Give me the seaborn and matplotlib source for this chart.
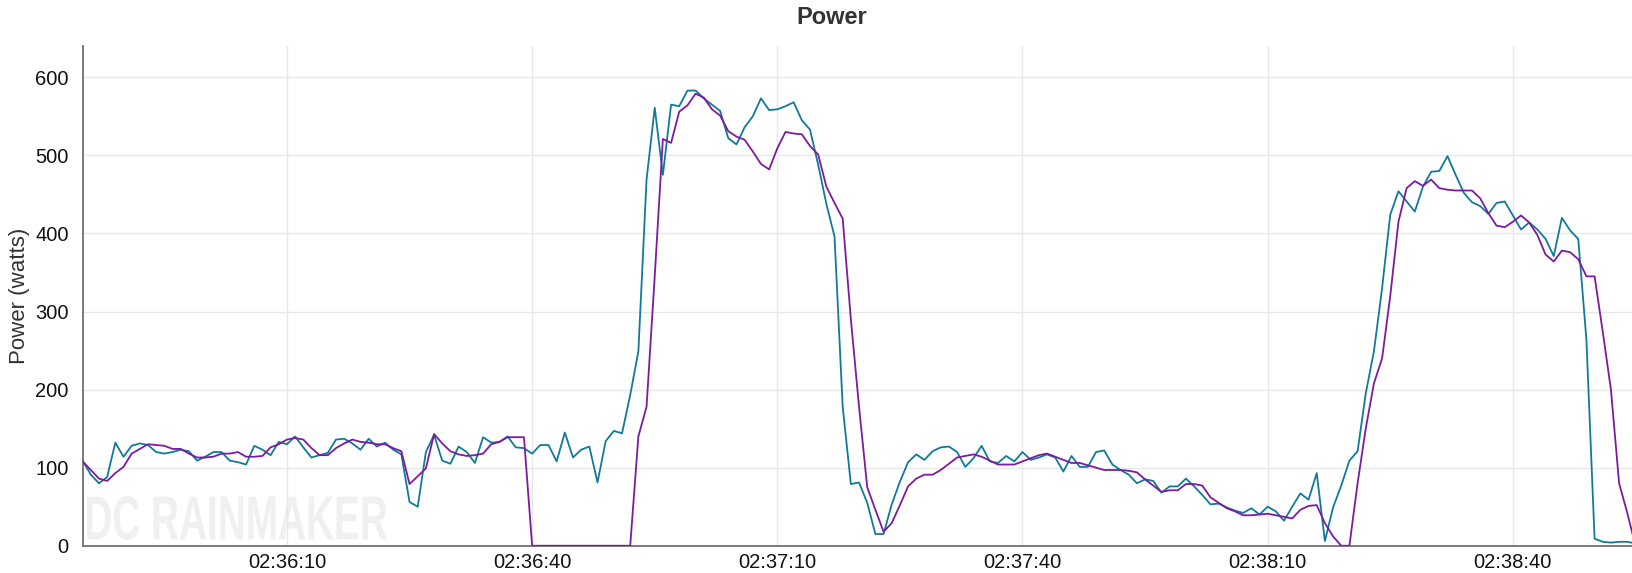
import matplotlib
matplotlib.use('Agg')
import matplotlib.pyplot as plt
import matplotlib.dates as mdates
from matplotlib.textpath import TextPath
from matplotlib.patches import PathPatch
from matplotlib.font_manager import FontProperties
from matplotlib.transforms import Affine2D, IdentityTransform
import pandas as pd
import seaborn as sns

# one sample per second, starting 02:35:45
start_time = '2020-01-01 02:35:45'

# power meter A (teal line), watts
power_a = [109, 91, 80, 88, 132, 114, 128, 131, 129, 120, 118, 120, 123, 121, 109, 114, 120, 120, 109, 107, 104, 128, 123, 116, 133, 130, 140, 126, 113, 116, 119, 136, 137,
           131, 123, 137, 127, 132, 123, 117, 56, 50, 120, 142, 109, 105, 127, 120, 106, 139, 132, 133, 140, 126, 125, 118, 129, 129, 108, 145, 113, 123, 127, 81, 134,
           147, 144, 193, 249, 469, 561, 475, 565, 563, 583, 583, 573, 565, 557, 522, 514, 536, 550, 573, 558, 559, 563, 568, 545, 533, 488, 438, 396, 178, 79, 81, 55,
           15, 15, 53, 82, 107, 117, 110, 121, 126, 127, 120, 101, 112, 128, 108, 106, 115, 108, 120, 110, 113, 117, 113, 95, 115, 101, 101, 120, 122, 104, 97,
           91, 80, 85, 83, 68, 76, 76, 86, 76, 65, 53, 54, 49, 45, 42, 48, 40, 50, 44, 32, 50, 67, 59, 93, 6, 49, 77, 109, 121, 195, 249, 330, 424,
           454, 441, 428, 460, 479, 480, 499, 475, 452, 440, 435, 425, 439, 441, 423, 405, 414, 405, 393, 371, 420, 404, 393, 264, 9, 5, 4, 5, 5, 3]

# power meter B (purple line), watts
power_b = [108, 97, 86, 83, 93, 101, 118, 124, 130, 129, 128, 124, 124, 118, 113, 113, 114, 118, 118, 120, 114, 114, 115, 126, 130, 136, 138, 136, 125, 116, 116, 125, 131,
           136, 133, 132, 130, 130, 125, 121, 79, 89, 99, 143, 131, 121, 117, 115, 116, 118, 130, 133, 139, 139, 139,
           0, 0, 0, 0, 0, 0, 0, 0, 0, 0, 0, 0, 0,
           140, 178, 345, 521, 516, 556, 564, 579, 574, 559, 551, 531, 524, 520, 505, 489, 482, 509, 530, 528, 527, 512, 501, 460, 439, 419, 290, 178, 75,
           46, 18, 29, 52, 76, 86, 91, 91, 97, 105, 113, 115, 117, 114, 109, 104, 104, 104, 108, 112, 116, 118, 114, 110, 106, 106, 103, 100, 97, 97, 97,
           96, 94, 85, 77, 69, 71, 71, 79, 79, 77, 62, 55, 48, 44, 39, 39, 40, 41, 39, 37, 35, 46, 51, 52, 29, 12, 0, 0, 80, 150, 208, 240, 320,
           415, 458, 467, 461, 469, 458, 456, 455, 455, 455, 445, 426, 410, 408, 415, 423, 414, 398, 373, 364, 378, 376, 367, 345, 345, 274, 200, 80, 42, 0]

y_ticks = [0, 100, 200, 300, 400, 500, 600]

times = pd.date_range(start_time, periods=len(power_a), freq='s')
df = pd.DataFrame({'time': list(times) * 2,
                   'watts': power_a + power_b,
                   'meter': ['A'] * len(power_a) + ['B'] * len(power_b)})

sns.set_style('white')
plt.rcParams['font.family'] = ['Liberation Sans', 'DejaVu Sans']

fig = plt.figure(figsize=(16.33, 5.73), dpi=100)
ax = fig.add_axes([0.0506, 0.0476, 0.9494, 0.872])

# faint condensed watermark behind the lines (squeezed text path, pixel coords)
wm = TextPath((0, 0), 'DC RAINMAKER', size=50, prop=FontProperties(family='Liberation Sans', weight='bold'))
ext = wm.get_extents()
wm_tr = Affine2D().translate(-ext.x0, -ext.y0).scale(300 / ext.width, 44 / ext.height).translate(87, 33)
ax.add_patch(PathPatch(wm_tr.transform_path(wm), transform=IdentityTransform(), facecolor='#f0f0f0',
                       edgecolor='none', zorder=0, clip_on=False))

sns.lineplot(data=df, x='time', y='watts', hue='meter', palette={'A': '#117a99', 'B': '#7d1aa0'},
             linewidth=1.3, legend=False, ax=ax, zorder=3)

ax.set_ylim(0, 640)
ax.set_yticks(y_ticks)
ax.set_xlim(times[0], times[0] + pd.Timedelta(seconds=189.7))
ax.xaxis.set_major_locator(mdates.SecondLocator(bysecond=[10, 40]))
ax.xaxis.set_major_formatter(mdates.DateFormatter('%H:%M:%S'))

ax.grid(True, color='#e8e8e8', linewidth=1.0)
ax.set_axisbelow(True)
for side in ['top', 'right']:
    ax.spines[side].set_visible(False)
for side in ['left', 'bottom']:
    ax.spines[side].set_color('#707070')
    ax.spines[side].set_linewidth(1.3)

ax.tick_params(axis='y', length=0, pad=10, labelsize=14.5, labelcolor='#111111')
ax.tick_params(axis='x', length=0, pad=5, labelsize=14.5, labelcolor='#111111')
ax.set_xlabel('')
ax.set_ylabel('Power (watts)', fontsize=16, color='#333333')
ax.yaxis.set_label_coords(-0.034, 0.5)

fig.text(0.5095, 0.969, 'Power', ha='center', va='center', fontsize=17, fontweight='bold', color='#333333')

plt.savefig('out.png', dpi=100)
